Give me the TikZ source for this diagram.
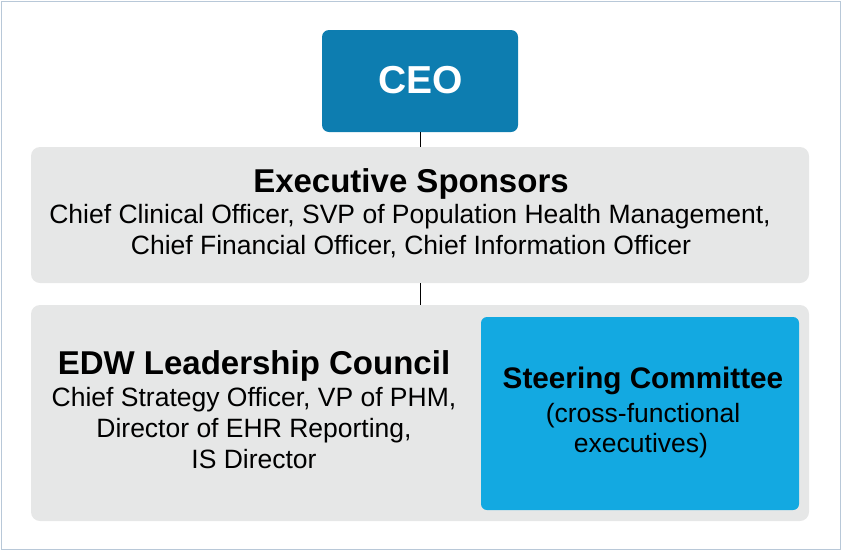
\documentclass[tikz,border=0pt]{standalone}
\usepackage{fontspec}
\setmainfont{Liberation Sans}
\definecolor{ceoblue}{HTML}{0D7DB0}
\definecolor{steerblue}{HTML}{13A9E1}
\definecolor{panelgrey}{HTML}{E6E7E7}
\definecolor{framecol}{HTML}{B8C8D8}
\begin{document}
\begin{tikzpicture}[x=1pt,y=-1pt,
  boxshape/.style={draw=none, inner sep=0pt, outer sep=0pt},
  ceobox/.style={boxshape, fill=ceoblue, rounded corners=7pt},
  panel/.style={boxshape, fill=panelgrey, rounded corners=9pt},
  steerbox/.style={boxshape, fill=steerblue, rounded corners=6pt},
  titletxt/.style={anchor=base, inner sep=0pt, font=\bfseries\fontsize{33}{33}\selectfont},
  bodytxt/.style={anchor=base, inner sep=0pt, font=\fontsize{26.5}{26.5}\selectfont},
  link/.style={draw=black, line width=1pt}]
\useasboundingbox (0,0) rectangle (842,552);
\draw[framecol, line width=1.2pt] (1.5,1.5) rectangle (840.5,549.5);
% boxes
\node[ceobox, minimum width=196pt, minimum height=102pt] (ceo) at (420,81) {};
\node[panel, minimum width=778pt, minimum height=136pt] (es) at (420,215) {};
\node[panel, minimum width=778pt, minimum height=216pt] (edw) at (420,413) {};
\node[steerbox, minimum width=318pt, minimum height=193pt] (sc) at (640,413.5) {};
% connectors
\draw[link] (ceo.south) -- (es.north);
\draw[link] (es.south) -- (edw.north);
% texts
\node[anchor=base, inner sep=0pt, text=white, font=\bfseries\fontsize{39}{39}\selectfont] (ceotxt) at (421,93) {CEO};
\node[titletxt] (estitle) at (411,192) {Executive Sponsors};
\node[bodytxt] (esl1) at (410,223) {Chief Clinical Officer, SVP of Population Health Management,};
\node[bodytxt] (esl2) at (411,254) {Chief Financial Officer, Chief Information Officer};
\node[titletxt] (edwtitle) at (254,374) {EDW Leadership Council};
\node[bodytxt] (edwl1) at (254,406) {Chief Strategy Officer, VP of PHM,};
\node[bodytxt] (edwl2) at (254,437) {Director of EHR Reporting,};
\node[bodytxt] (edwl3) at (254,468) {IS Director};
\node[titletxt, font=\bfseries\fontsize{29.7}{29.7}\selectfont] (sctitle) at (643,388) {Steering Committee};
\node[bodytxt] (scl1) at (643,422) {(cross-functional};
\node[bodytxt] (scl2) at (641,452) {executives)};
\end{tikzpicture}
\end{document}
